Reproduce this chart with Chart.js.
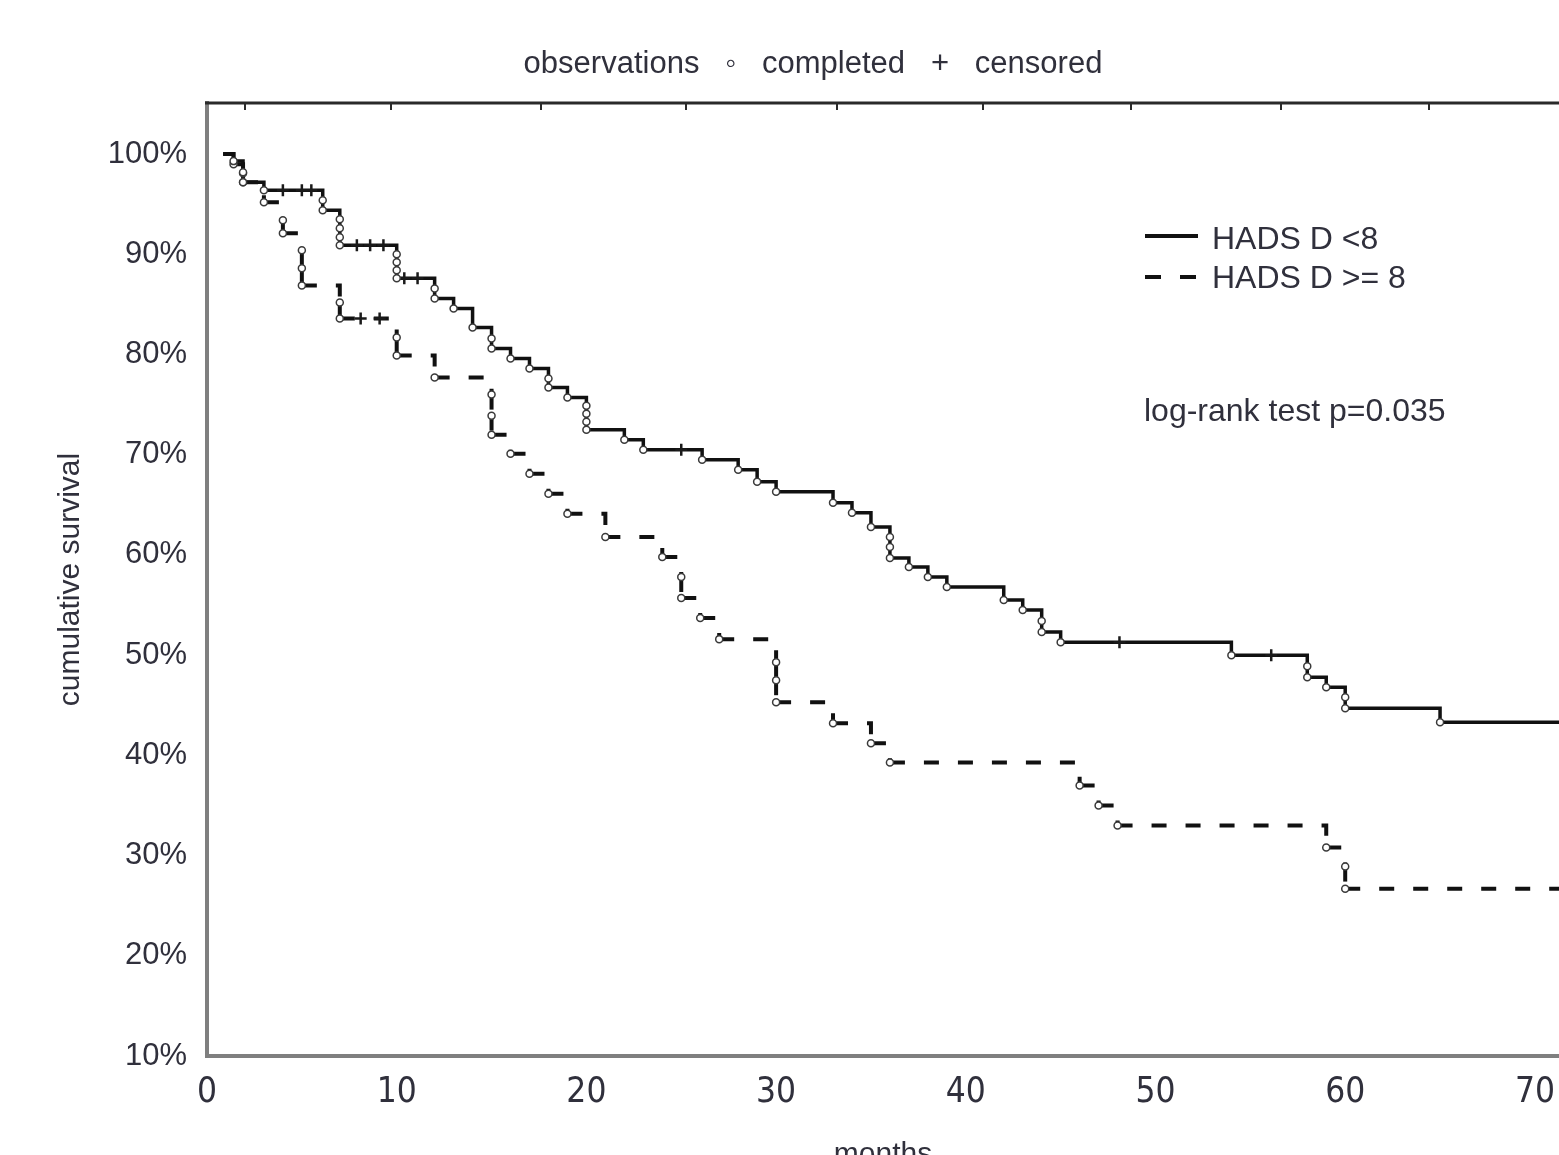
<!DOCTYPE html>
<html><head><meta charset="utf-8">
<script src="https://cdn.jsdelivr.net/npm/chart.js@4.4.1/dist/chart.umd.min.js"></script>
<style>
html,body{margin:0;padding:0;background:#fff;overflow:hidden;width:1559px;height:1155px}
#wrap{position:absolute;left:0;top:0;width:1626px;height:1200px}
canvas{display:block;width:1626px;height:1200px}
</style>
</head><body><div id="wrap"><canvas id="c" width="1626" height="1200"></canvas></div>
<script>
// ---- axis ticks ----
const xTicks = [0, 10, 20, 30, 40, 50, 60, 70];
const yTicks = [10, 20, 30, 40, 50, 60, 70, 80, 90, 100];
const topTicks = [2, 9.7, 17.6, 25.25, 33.2, 40.9, 48.7, 56.6, 64.4];
const X_MAX = 71.27, Y_MIN = 10, Y_MAX = 105.1;
const startTime = 0.85;

// ---- HADS D <8 (solid) : event times (months) and survival (%) after each event ----
const lowTimes = [1.4, 1.9, 1.9, 3, 6.1, 6.1, 7, 7, 7, 7, 10, 10, 10, 10, 12, 12, 13, 14, 15, 15, 16, 17, 18, 18, 19,
  20, 20, 20, 20, 22, 23, 26.1, 28, 29, 30, 33, 34, 35, 36, 36, 36, 37, 38, 39, 42, 43, 44, 44, 45, 54, 58, 58, 59, 60, 60, 65];
const lowSurv = [99.3, 98.2, 97.2, 96.4, 95.4, 94.4, 93.5, 92.6, 91.7, 90.9, 90.0, 89.2, 88.4, 87.6, 86.6, 85.6, 84.6, 82.7, 81.6, 80.6, 79.6, 78.6, 77.6, 76.7, 75.7,
  74.9, 74.1, 73.3, 72.5, 71.5, 70.5, 69.5, 68.5, 67.3, 66.3, 65.2, 64.2, 62.8, 61.8, 60.8, 59.7, 58.8, 57.8, 56.8, 55.5, 54.5, 53.4, 52.3, 51.3, 50.0, 48.9, 47.8, 46.8, 45.8, 44.7, 43.3];
const lowCensored = [4.0, 5.0, 5.5, 7.9, 8.6, 9.3, 10.4, 11.1, 25.0, 48.1, 56.1];

// ---- HADS D >= 8 (dashed) ----
const highTimes = [1.4, 1.9, 1.9, 3, 4, 4, 5, 5, 5, 7, 7, 10, 10, 12, 15, 15, 15, 16, 17, 18, 19, 21, 24, 25, 25, 26, 27,
  30, 30, 30, 33, 35, 36, 46, 47, 48, 59, 60, 60];
const highSurv = [99.0, 98.1, 97.2, 95.2, 93.4, 92.1, 90.4, 88.6, 86.9, 85.2, 83.6, 81.7, 79.9, 77.7, 76.0, 73.9, 72.0, 70.1, 68.1, 66.1, 64.1, 61.8, 59.8, 57.8, 55.7, 53.7, 51.6,
  49.3, 47.5, 45.3, 43.2, 41.2, 39.3, 37.0, 35.0, 33.0, 30.8, 28.9, 26.7];
const highCensored = [8.1, 9.1];

const seriesLabels = ['HADS D <8', 'HADS D >= 8'];
const pValueText = 'log-rank test p=0.035';
const titleText = 'observations   \u25E6   completed   +   censored';

// ---- helpers building library data ----
function survAt(times, surv, t) {
  let s = 100;
  for (let i = 0; i < times.length; i++) if (times[i] <= t) s = surv[i];
  return s;
}
function stepLine(times, surv) {
  const pts = [{x: startTime, y: 100}];
  times.forEach((t, i) => pts.push({x: t, y: surv[i]}));
  pts.push({x: X_MAX, y: surv[surv.length - 1]});
  return pts;
}
const evPts = (times, surv) => times.map((t, i) => ({x: t, y: surv[i]}));
const cenPts = (cens, times, surv) => cens.map(t => ({x: t, y: survAt(times, surv, t)}));

const TXT = '#30303c';
const FONT = "'Liberation Sans', Arial, sans-serif";
Chart.defaults.font.family = FONT;

const overlay = {
  id: 'overlay',
  afterDraw(chart) {
    const {ctx, chartArea: a, scales: {x}} = chart;
    ctx.save();
    // top frame line with inward ticks
    ctx.strokeStyle = '#2a2a2a';
    ctx.lineWidth = 3;
    ctx.beginPath();
    ctx.moveTo(a.left - 2, a.top); ctx.lineTo(a.right + 2, a.top);
    ctx.stroke();
    ctx.lineWidth = 2;
    topTicks.forEach(v => {
      const px = Math.round(x.getPixelForValue(v));
      ctx.beginPath(); ctx.moveTo(px, a.top); ctx.lineTo(px, a.top + 7); ctx.stroke();
    });
    // title / symbol key
    ctx.fillStyle = TXT;
    ctx.font = "31px " + FONT;
    ctx.textAlign = 'center';
    ctx.textBaseline = 'middle';
    ctx.fillText(titleText, 813, 64);
    // legend
    ctx.strokeStyle = '#111';
    ctx.lineWidth = 4;
    ctx.beginPath(); ctx.moveTo(1145, 236); ctx.lineTo(1198, 236); ctx.stroke();
    ctx.beginPath(); ctx.moveTo(1145, 277); ctx.lineTo(1161, 277); ctx.moveTo(1180, 277); ctx.lineTo(1196, 277); ctx.stroke();
    ctx.font = "32px " + FONT;
    ctx.textBaseline = 'alphabetic';
    ctx.textAlign = 'left';
    ctx.fillText(seriesLabels[0], 1212, 249);
    ctx.fillText(seriesLabels[1], 1212, 288);
    ctx.fillText(pValueText, 1144, 421);
    ctx.restore();
  }
};

new Chart(document.getElementById('c'), {
  type: 'line',
  data: {
    datasets: [
      {label: 'completed low', type: 'scatter', data: evPts(lowTimes, lowSurv), showLine: false,
        pointStyle: 'circle', pointRadius: 3.5, pointBorderWidth: 1.5, pointBorderColor: '#3a3a3a', pointBackgroundColor: '#fff', order: 1},
      {label: 'completed high', type: 'scatter', data: evPts(highTimes, highSurv), showLine: false,
        pointStyle: 'circle', pointRadius: 3.5, pointBorderWidth: 1.5, pointBorderColor: '#3a3a3a', pointBackgroundColor: '#fff', order: 1},
      {label: 'censored low', type: 'scatter', data: cenPts(lowCensored, lowTimes, lowSurv), showLine: false,
        pointStyle: 'cross', pointRadius: 6, pointBorderWidth: 2.5, pointBorderColor: '#1a1a1a', order: 2},
      {label: 'censored high', type: 'scatter', data: cenPts(highCensored, highTimes, highSurv), showLine: false,
        pointStyle: 'cross', pointRadius: 6, pointBorderWidth: 2.5, pointBorderColor: '#1a1a1a', order: 2},
      {label: seriesLabels[0], data: stepLine(lowTimes, lowSurv), stepped: true, borderColor: '#111',
        borderWidth: 3.5, pointRadius: 0, fill: false, order: 10},
      {label: seriesLabels[1], data: stepLine(highTimes, highSurv), stepped: true, borderColor: '#111',
        borderWidth: 4, borderDash: [15, 19], pointRadius: 0, fill: false, order: 10,
        segment: {borderDashOffset: c => (c.p0DataIndex % 2 ? 0 : 0.01)}}
    ]
  },
  options: {
    responsive: false,
    animation: false,
    events: [],
    layout: {padding: {left: 0, right: 67, top: 103, bottom: 0}},
    plugins: {
      legend: {display: false},
      tooltip: {enabled: false},
      title: {display: false}
    },
    scales: {
      x: {
        type: 'linear', min: 0, max: X_MAX,
        afterBuildTicks: s => { s.ticks = xTicks.map(v => ({value: v})); },
        afterFit: s => { s.height = 144; },
        grid: {display: true, drawOnChartArea: false, drawTicks: false},
        border: {display: true, color: '#7f7f7f', width: 4},
        ticks: {padding: 16, color: TXT, maxRotation: 0, autoSkip: false,
          font: {family: "'Liberation Sans Narrow', 'DejaVu Sans Condensed', 'Liberation Sans', sans-serif", size: 35}},
        title: {display: true, text: 'months', color: TXT, font: {family: FONT, size: 30}, padding: {top: 0, bottom: 27}}
      },
      y: {
        type: 'linear', min: Y_MIN, max: Y_MAX,
        afterBuildTicks: s => { s.ticks = yTicks.map(v => ({value: v})); },
        afterFit: s => { s.width = 207; },
        grid: {display: true, drawOnChartArea: false, drawTicks: false},
        border: {display: true, color: '#7f7f7f', width: 4},
        ticks: {padding: 20, color: TXT, autoSkip: false, font: {family: FONT, size: 31},
          callback: v => v + '%'},
        title: {display: true, text: 'cumulative survival', color: TXT, font: {family: FONT, size: 30}, padding: {top: 53, bottom: 0}}
      }
    }
  },
  plugins: [overlay]
});
</script>
</body></html>
